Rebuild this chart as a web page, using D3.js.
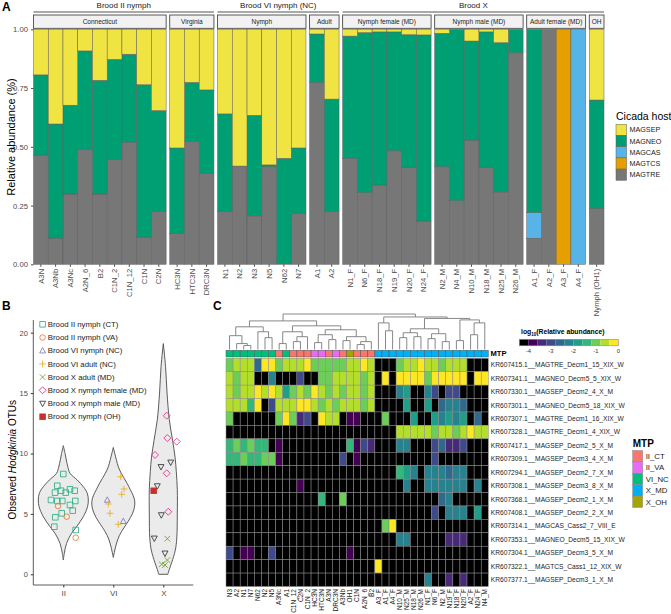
<!DOCTYPE html>
<html lang="en">
<head>
<meta charset="utf-8">
<title>Hodgkinia composition figure</title>
<script src="https://cdn.jsdelivr.net/npm/d3@7"></script>
<style>
  body { margin: 0; background: #fff; }
  svg { display: block; font-family: "Liberation Sans", Arial, sans-serif; }
</style>
</head>
<body>
<div id="chart"></div>
<script>

// ---------------- panel A data ----------------
const sampleNames = ["A3N","A3Nb","A3Nc","A2N_6","B2","C1N_2","C1N_12","C1N","C2N",
  "HC3N","HTC3N","DRC3N","N1","N2","N3","N5","N62","N7","A1","A2",
  "N1_F","N6_F","N18_F","N19_F","N20_F","N24_F","N2_M","N4_M","N10_M","N18_M","N25_M","N26_M",
  "A1_F","A2_F","A3_F","A4_F","Nymph (OH1)"];
const facetNames = ["Connecticut","Virginia","Nymph","Adult","Nymph female (MD)","Nymph male (MD)","Adult female (MD)","OH"];
const facetSizes = [9, 3, 6, 2, 6, 6, 4, 1];
const broodNames = ["Brood II nymph", "Brood VI nymph (NC)", "Brood X"];
const broodSpan = [2, 2, 4];   // number of inner facets under each brood

const hostKeys = ["MAGSEP","MAGNEO","MAGCAS","MAGTCS","MAGTRE"];
const hostColors = ["#F0E442","#009E73","#56B4E9","#E69F00","#777777"];

const magsep = [.194,.403,.323,.092,.217,.128,.106,.236,.346, .505,.226,.258, .360,.582,.366,.577,.549,.505, .020,.297,
  .029,.014,.011,.011,.023,.024, .017,0,.050,.011,.057,0, 0,0,0,0, .301];
const magneo = [.341,.486,.378,.419,.484,.425,.375,.648,.430, .363,.251,.355, .416,0,.428,.008,.447,.278, .206,.479,
  .520,.681,.652,.506,.564,.792, .568,.729,.422,.576,.635,.100, .780,0,0,0, .461];
const magcas = [0,0,0,0,0,0,0,0,0, 0,0,0, 0,0,0,0,0,0, 0,0, 0,0,0,0,0,0, 0,0,0,0,0,0, .109,0,0,1, 0];
const magtcs = [0,0,0,0,0,0,0,0,0, 0,0,0, 0,0,0,0,0,0, 0,0, 0,0,0,0,0,0, 0,0,0,0,0,0, 0,0,1,0, 0];
const magtre = [.465,.111,.299,.489,.299,.447,.519,.116,.224, .132,.523,.387, .224,.418,.206,.415,.004,.217, .774,.224,
  .451,.305,.337,.483,.413,.184, .415,.271,.528,.413,.308,.900, .111,1,0,0, .238];

// ---------------- panel B data ----------------
const otuGroups = ["II","VI","X"];
const otuTicks = [0, 5, 10, 15, 20];
// violin outlines: [observed OTUs, relative density]
const violinII = [[10.65,0],[10.0,0.07],[9.47,0.12],[8.9,0.18],[8.36,0.27],[7.8,0.56],[7.25,0.8],[6.7,0.96],[6.15,1],
  [5.6,0.97],[4.77,0.8],[3.94,0.53],[3.39,0.33],[2.56,0.13],[1.74,0.04],[1.18,0]];
const violinVI = [[10.5,0],[9.5,0.12],[8.9,0.2],[8.36,0.32],[7.5,0.56],[7,0.68],[6.5,0.8],[6,0.86],[5.5,0.84],
  [5,0.76],[4.4,0.6],[3.9,0.44],[3.2,0.24],[2.5,0.12],[1.8,0.04],[1.4,0]];
const violinX = [[19.1,0],[17.2,0.09],[15,0.15],[12.8,0.24],[11.1,0.37],[9.7,0.47],[8.5,0.52],[7,0.56],[5,0.56],
  [3,0.54],[2,0.48],[1,0.34],[0.4,0.24],[0,0.18]];

const seriesNames = ["Brood II nymph (CT)","Brood II nymph (VA)","Brood VI nymph (NC)","Brood VI adult (NC)",
  "Brood X adult (MD)","Brood X nymph female (MD)","Brood X nymph male (MD)","Brood X nymph (OH)"];
const seriesShapes = ["square","circle","triangle","plus","cross","diamond","down","squarex"];
const seriesColors = ["#27B084","#E5793A","#8078C0","#E8AE1C","#66A61E","#E7298A","#333333","#C8302E"];
const seriesGroup = ["II","II","VI","VI","X","X","X","X"];
// points: [jitter (category units), observed OTUs]
const ptsCT = [[0,8.3],[-0.12,7.33],[-0.046,6.92],[-0.166,6.76],[0.048,6.76],[0.134,7.04],[0.228,6.92],[-0.246,6.15],
  [-0.12,6.07],[-0.02,6.07],[0.24,6.07],[0.134,5.74],[0.188,5.27],[-0.032,5.05],[-0.16,4.72],[-0.18,3.94],[0.248,3.67]];
const ptsVA = [[-0.106,5.65],[0.068,4.77],[0.248,3.03]];
const ptsVInymph = [[-0.12,6.15],[0.2,4.39]];
const ptsVIadult = [[0.148,8.08],[0.214,7.06],[0.168,6.62],[-0.1,5.82],[-0.066,5.05],[0.1,4.14]];
const ptsXadult = [[0.08,2.95],[0.08,1.18],[-0.032,0.83],[0.034,0.77]];
const ptsXfemale = [[0.068,13.13],[0.08,11.28],[0.268,10.98],[-0.166,9.88],[0.068,8.36],[0.1,5.18]];
const ptsXmale = [[-0.046,8.9],[0.148,9.27],[-0.12,7.31],[-0.04,4.91],[-0.18,2.98],[0.034,1.74]];
const ptsOH = [[-0.192,6.92]];
const seriesPoints = [ptsCT, ptsVA, ptsVInymph, ptsVIadult, ptsXadult, ptsXfemale, ptsXmale, ptsOH];

// ---------------- panel C data ----------------
const colNames = ["N3","A2","N1","N7","N62","N2","N5","A3Nc","A1","C1N_12","C2N","C1N_2","HC3N","HTC3N","A3N","DRC3N",
  "A3Nb","OH1","C1N","A2N_6","B2","A3_F","A1_F","A4_F","N10_M","N25_M","N18_M","N26_M","N1_F","N6_F","N2_M","N19_F",
  "N18_F","N20_F","A2_F","N24_F","N4_M"];
const colMTP = ["VI_NC","VI_NC","VI_NC","VI_NC","VI_NC","VI_NC","VI_NC","II_CT","VI_NC","II_CT","II_CT","II_CT",
  "II_VA","II_VA","II_CT","II_VA","II_CT","X_OH","II_CT","II_CT","II_CT",
  "X_MD","X_MD","X_MD","X_MD","X_MD","X_MD","X_MD","X_MD","X_MD","X_MD","X_MD","X_MD","X_MD","X_MD","X_MD","X_MD"];
const mtpNames = ["II_CT","II_VA","VI_NC","X_MD","X_OH"];
const mtpColors = ["#F8766D","#E76BF3","#00BF7D","#00B0F6","#A3A500"];
const rowNames = ["KR607415.1__MAGTRE_Decm1_15_XIX_W","KR607341.1__MAGNEO_Decm5_5_XIX_W","KR607330.1__MAGSEP_Decm2_4_X_M",
  "KR607301.1__MAGNEO_Decm5_18_XIX_W","KR607307.1__MAGTRE_Decm1_16_XIX_W","KR607328.1__MAGTRE_Decm1_4_XIX_W",
  "KR607417.1__MAGSEP_Decm2_5_X_M","KR607309.1__MAGSEP_Decm3_4_X_M","KR607294.1__MAGSEP_Decm2_7_X_M",
  "KR607308.1__MAGSEP_Decm3_8_X_M","KR607368.1__MAGSEP_Decm2_1_X_M","KR607408.1__MAGSEP_Decm2_2_X_M",
  "KR607314.1__MAGCAS_Cass2_7_VIII_E","KR607353.1__MAGNEO_Decm5_15_XIX_W","KR607304.1__MAGSEP_Decm3_5_X_M",
  "KR607322.1__MAGTCS_Cass1_12_XIX_W","KR607377.1__MAGSEP_Decm3_1_X_M"];
const _ = null;  // not detected
// log10(relative abundance), one row per OTU, columns in colNames order
const heatValues = [
  [-1,-.6,-.6,-.6,-2.6,-.2,-.2,-1,-.6,-.6,-.6,-.2,-1,-1,-1,-1,-1,-.6,-.6,-.2,-.6,_,_,_,-1,-.6,-.6,-.2,-.6,-.6,-1,-.6,-.6,-.6,_,_,_],
  [-.6,-1,-.6,-.6,_,_,-2.2,_,_,_,-3,_,_,-1,-1,-.6,-.6,-.6,-.6,-1,-.6,_,-.2,_,-.2,-.2,-.2,-.2,-1,-.2,-.2,-.2,-.2,-.2,_,-.2,-.2],
  [-.6,-1,-.6,-.6,-.2,-.6,-.2,-.6,-1.8,-1,-.6,-1,-.2,-.6,-1,-.6,-1,-.6,-.6,-1,-.6,_,_,_,-2.2,-1.8,_,_,-2.2,-3,_,-3,-3,_,_,_,_],
  [-.6,-.6,-.6,-1.4,-.2,_,-3,-.6,-.6,-.6,-.2,-.2,-.6,-1,-.6,-1,-.6,-.6,-.6,-1,-.6,_,_,_,_,-1.8,_,_,-1.8,_,-2.6,-2.2,-2.2,-2.6,_,_,_],
  [-1,_,_,_,_,_,_,-1,-.2,-1,-3.4,-3,_,-.2,-.6,-.6,_,-3.8,-3.8,_,_,_,-1,_,_,_,-1.8,_,_,-1.8,-2.2,-1.8,-2.2,-1.8,_,-2.6,_],
  [_,_,_,_,_,_,_,_,_,_,_,_,_,_,_,_,_,_,_,_,_,_,_,_,-.6,-.6,-.6,-.6,-.6,-1,-.6,-.6,-1,-.6,-.2,-.6,-.6],
  [-1.4,-1,-1.4,-1,-1.4,-1.4,_,-3.8,_,_,_,_,_,_,_,_,_,-1.4,-3.8,-3,-3.4,_,_,_,-2.2,-2.2,_,_,_,-3,-2.6,-3.4,-3.4,-3,_,_,_],
  [-1.4,-1.4,-1,-1.4,-1.4,-1,-1,-3.8,_,_,_,_,_,_,_,_,-3,_,-3.8,_,_,_,_,_,_,_,_,_,_,-3,_,_,_,_,_,_,_],
  [_,_,_,_,_,_,_,_,_,_,_,_,_,_,_,_,_,_,_,_,_,_,_,_,-1.4,-1.8,-2.2,_,-2.2,-2.2,-2.2,-2.6,-2.2,-2.2,_,_,_],
  [_,_,_,_,_,_,_,_,_,_,-3.8,_,_,_,_,_,_,_,_,_,_,_,_,_,_,-2.2,_,_,-2.2,-2.2,-2.2,-2.2,-2.2,-2.2,_,-2.2,_],
  [_,_,_,_,_,_,_,_,_,_,_,_,_,-1.4,_,_,-1,_,_,_,_,_,_,_,_,_,_,_,_,_,-2.6,-2.2,_,_,_,_,_],
  [_,_,_,_,_,_,_,_,_,_,_,_,_,_,_,_,_,_,_,_,_,_,_,_,_,_,_,_,_,-3,_,-2.2,-2.2,-2.2,_,-1.8,_],
  [_,_,_,_,_,_,_,_,_,_,_,_,_,_,_,_,_,_,_,_,_,_,-1,-.2,_,_,_,_,_,_,_,_,_,_,_,_,_],
  [_,_,_,_,_,_,_,_,_,_,_,_,_,_,_,_,_,_,_,_,_,_,_,_,-2.2,-2.2,_,_,_,_,_,-3.4,-3.4,-3.4,_,_,_],
  [-3,_,-3.8,-3.8,_,_,-3,_,_,_,_,_,_,_,_,_,_,-3.8,_,_,_,_,_,_,_,_,_,_,_,_,_,_,_,_,_,_,_],
  [_,_,_,_,_,_,_,_,_,_,_,_,_,_,_,_,_,_,_,_,_,-.2,_,_,_,_,_,_,_,_,_,_,_,_,_,_,_],
  [_,_,_,_,_,_,_,_,_,_,_,_,_,_,_,_,_,_,_,_,_,_,_,_,_,_,_,_,-2.2,_,_,-3.4,_,-3.4,_,_,_]
];
const heatBreaks = [-4,-3.6,-3.2,-2.8,-2.4,-2,-1.6,-1.2,-0.8,-0.4];
const heatColors = ["#000000","#440154","#482878","#3E4A89","#31688E","#26828E","#1F9E89","#35B779","#6DCD59","#B4DE2C","#FDE725"];
const heatLegendTicks = [-4,-3,-2,-1,0];
// column clustering: [merge height, left, right]; leaves are column indices
const colTree = [36,
  [29,
    [23, [14, 0, [6, 1, [4, 2, 3]]], [18, 4, [12, 5, 6]]],
    [24, [18, [6, 7, 8], [13, [8, 9, 10], 11]],
         [20, [15, [7, 12, 13], [10, 14, 15]], [13, [9, 16, 17], [8, [5, 18, 19], 20]]]]],
  [33,
    [27, 21, [19, 22, 23]],
    [31.5, [21, [17, [12, 24, 25], [13, 26, 27]], [16, [11, 28, 29], [8, 30, 31]]],
           [30, [9, 32, 33], [27, [15, 34, 35], 36]]]]];

// ------------------------------------------------
const svg = d3.select("#chart").append("svg")
    .attr("width", 671)
    .attr("height", 614);

const greyText = "#4d4d4d";

function panelLetter(t, x, y) {
    svg.append("text").attr("x", x).attr("y", y).text(t)
        .style("font-size", "12px").style("font-weight", "bold");
}

// ================= PANEL A =================
panelLetter("A", 2, 11);

const aLeft = 33.5, aRight = 604, aGap = 3.6, aTop = 29.3, aBottom = 264.3;
const barW = (aRight - aLeft - aGap * (facetSizes.length - 1)) / sampleNames.length;

const yA = d3.scaleLinear().domain([0, 1]).range([aBottom, aTop]);

const rows = sampleNames.map((s, i) => ({
    sample: s, MAGSEP: magsep[i], MAGNEO: magneo[i], MAGCAS: magcas[i], MAGTCS: magtcs[i], MAGTRE: magtre[i]
}));
const stackKeys = ["MAGTRE","MAGTCS","MAGCAS","MAGNEO","MAGSEP"];
const layers = d3.stack().keys(stackKeys)(rows);
const hostColor = d3.scaleOrdinal().domain(hostKeys).range(hostColors);

let cursor = aLeft;
const facets = facetNames.map((name, i) => {
    const start = d3.sum(facetSizes.slice(0, i));
    const ids = sampleNames.slice(start, start + facetSizes[i]);
    const x = d3.scaleBand().domain(ids).range([cursor, cursor + ids.length * barW]).padding(0);
    cursor += ids.length * barW + aGap;
    return { name, ids, x };
});

const gA = svg.append("g");

facets.forEach(f => {
    const g = gA.append("g");
    layers.forEach(layer => {
        g.selectAll(null)
            .data(layer.filter(d => f.ids.includes(d.data.sample) && d[1] - d[0] > 0))
            .enter().append("rect")
            .attr("x", d => f.x(d.data.sample))
            .attr("width", f.x.bandwidth())
            .attr("y", d => yA(d[1]))
            .attr("height", d => yA(d[0]) - yA(d[1]))
            .attr("fill", hostColor(layer.key))
            .attr("stroke", "#5e5e5e")
            .attr("stroke-width", 0.5);
    });

    // x labels
    const ax = g.append("g")
        .attr("transform", "translate(0," + aBottom + ")")
        .call(d3.axisBottom(f.x).tickSize(2.5));
    ax.select(".domain").remove();
    ax.selectAll("line").attr("stroke", "#4d4d4d");
    ax.selectAll("text")
        .attr("transform", "rotate(-90)")
        .attr("x", -4.5).attr("y", 0).attr("dy", "0.35em")
        .attr("text-anchor", "end")
        .style("font-size", "7.7px").style("fill", greyText)
        .style("font-family", "Liberation Sans, Arial, sans-serif");

    // inner strip
    const [x0, x1] = f.x.range();
    g.append("rect")
        .attr("x", x0).attr("y", 15).attr("width", x1 - x0).attr("height", 13.3)
        .attr("fill", "#f2f2f2").attr("stroke", "#333").attr("stroke-width", 0.8);
    g.append("text")
        .attr("x", (x0 + x1) / 2).attr("y", 21.8).attr("dy", "0.35em")
        .attr("text-anchor", "middle")
        .style("font-size", "6.5px").style("fill", "#1a1a1a")
        .text(f.name);
});

// outer (brood) strips
let fi = 0;
broodNames.forEach((b, i) => {
    const x0 = facets[fi].x.range()[0];
    const x1 = facets[fi + broodSpan[i] - 1].x.range()[1];
    fi += broodSpan[i];
    gA.append("line")
        .attr("x1", x0).attr("x2", x1).attr("y1", 12).attr("y2", 12)
        .attr("stroke", "#8c8c8c").attr("stroke-width", 1.6);
    gA.append("text")
        .attr("x", (x0 + x1) / 2).attr("y", 5.3).attr("dy", "0.35em")
        .attr("text-anchor", "middle")
        .style("font-size", "8px").style("fill", "#1a1a1a")
        .text(b);
});

// y axis
const yAxisA = gA.append("g")
    .attr("transform", "translate(" + aLeft + ",0)")
    .call(d3.axisLeft(yA).tickValues([0, 0.25, 0.5, 0.75, 1]).tickFormat(d3.format(".2f")).tickSize(2.5));
yAxisA.select(".domain").remove();
yAxisA.selectAll("line").attr("stroke", "#4d4d4d");
yAxisA.selectAll("text").style("font-size", "7.7px").style("fill", greyText)
    .style("font-family", "Liberation Sans, Arial, sans-serif");

gA.append("text")
    .attr("transform", "translate(11," + 137 + ") rotate(-90)")
    .attr("text-anchor", "middle").attr("dy", "0.35em")
    .style("font-size", "11px")
    .text("Relative abundance (%)");

// host legend
const legA = gA.append("g").attr("transform", "translate(616,0)");
legA.append("text").attr("x", 0).attr("y", 120).text("Cicada host").style("font-size", "10.5px");
hostKeys.forEach((k, i) => {
    legA.append("rect")
        .attr("x", 0).attr("y", 124.3 + i * 11.2).attr("width", 10.6).attr("height", 11.2)
        .attr("fill", hostColors[i]).attr("stroke", "#5e5e5e").attr("stroke-width", 0.5);
    legA.append("text")
        .attr("x", 13.5).attr("y", 124.3 + i * 11.2 + 5.6).attr("dy", "0.35em")
        .style("font-size", "7.2px").style("fill", "#1a1a1a")
        .text(k);
});

// ================= PANEL B =================
panelLetter("B", 2, 310);

const gB = svg.append("g");
const xB = d3.scalePoint().domain(otuGroups).range([63.3, 163.3]);
const catUnit = 50;
const yB = d3.scaleLinear().domain([0, 20]).range([574.3, 332.7]);
const wB = d3.scaleLinear().domain([0, 1]).range([0, 25]);
const symSize = 5.6;

const violins = [violinII, violinVI, violinX];
violins.forEach((v, i) => {
    const cx = xB(otuGroups[i]);
    const area = d3.area()
        .y(d => yB(d[0]))
        .x0(d => cx - wB(d[1]))
        .x1(d => cx + wB(d[1]))
        .curve(d3.curveCatmullRom.alpha(0.5));
    gB.append("path")
        .attr("d", area(v) + "Z")
        .attr("fill", "#ebebeb")
        .attr("stroke", "#4a4a4a")
        .attr("stroke-width", 0.9);
});

function shapePath(type, s) {
    const h = s / 2;
    switch (type) {
        case "square": return `M${-h},${-h}H${h}V${h}H${-h}Z`;
        case "circle": return `M${h},0A${h},${h} 0 1,1 ${-h},0A${h},${h} 0 1,1 ${h},0Z`;
        case "triangle": return `M0,${-h * 1.15}L${h * 1.05},${h * 0.8}L${-h * 1.05},${h * 0.8}Z`;
        case "down": return `M0,${h * 1.15}L${h * 1.05},${-h * 0.8}L${-h * 1.05},${-h * 0.8}Z`;
        case "plus": return `M${-h * 1.2},0H${h * 1.2}M0,${-h * 1.2}V${h * 1.2}`;
        case "cross": return `M${-h},${-h}L${h},${h}M${-h},${h}L${h},${-h}`;
        case "diamond": return `M0,${-h * 1.25}L${h * 1.25},0L0,${h * 1.25}L${-h * 1.25},0Z`;
        case "squarex": return `M${-h},${-h}H${h}V${h}H${-h}ZM${-h},${-h}L${h},${h}M${-h},${h}L${h},${-h}`;
    }
}

seriesPoints.forEach((pts, si) => {
    const cx = xB(seriesGroup[si]);
    gB.selectAll(null)
        .data(pts)
        .enter().append("path")
        .attr("transform", d => "translate(" + (cx + d[0] * catUnit) + "," + yB(d[1]) + ")")
        .attr("d", shapePath(seriesShapes[si], symSize))
        .attr("fill", seriesShapes[si] === "squarex" ? seriesColors[si] : "none")
        .attr("stroke", seriesColors[si])
        .attr("stroke-width", 0.85);
});

// axes
gB.append("line").attr("x1", 33.3).attr("x2", 33.3).attr("y1", 320).attr("y2", 585)
    .attr("stroke", "#333").attr("stroke-width", 0.8);
gB.append("line").attr("x1", 33.3).attr("x2", 193.3).attr("y1", 585).attr("y2", 585)
    .attr("stroke", "#333").attr("stroke-width", 0.8);

const yAxisB = gB.append("g")
    .attr("transform", "translate(33.3,0)")
    .call(d3.axisLeft(yB).tickValues(otuTicks).tickSize(2.5));
yAxisB.select(".domain").remove();
yAxisB.selectAll("line").attr("stroke", "#333");
yAxisB.selectAll("text").style("font-size", "7.5px").style("fill", greyText)
    .style("font-family", "Liberation Sans, Arial, sans-serif");

const xAxisB = gB.append("g")
    .attr("transform", "translate(0,585)")
    .call(d3.axisBottom(xB).tickSize(2.5));
xAxisB.select(".domain").remove();
xAxisB.selectAll("line").attr("stroke", "#333");
xAxisB.selectAll("text").style("font-size", "8px").style("fill", greyText)
    .style("font-family", "Liberation Sans, Arial, sans-serif");

const yTitleB = gB.append("text")
    .attr("transform", "translate(12,459.7) rotate(-90)")
    .attr("text-anchor", "middle").attr("dy", "0.35em")
    .style("font-size", "10px");
yTitleB.append("tspan").text("Observed ");
yTitleB.append("tspan").style("font-style", "italic").text("Hodgkinia");
yTitleB.append("tspan").text(" OTUs");

// point legend
seriesNames.forEach((n, i) => {
    const yy = 324.3 + i * 13.2;
    gB.append("path")
        .attr("transform", "translate(42.6," + yy + ")")
        .attr("d", shapePath(seriesShapes[i], symSize))
        .attr("fill", seriesShapes[i] === "squarex" ? seriesColors[i] : "none")
        .attr("stroke", seriesColors[i])
        .attr("stroke-width", 0.85);
    gB.append("text")
        .attr("x", 47.8).attr("y", yy).attr("dy", "0.35em")
        .style("font-size", "7.8px").style("fill", "#1a1a1a")
        .text(n);
});

// ================= PANEL C =================
panelLetter("C", 213, 310);

const gC = svg.append("g");
const xH = d3.scaleBand().domain(colNames).range([226, 488.3]).padding(0);
const yH = d3.scaleBand().domain(rowNames).range([358.3, 586.5]).padding(0);
const heatColor = d3.scaleThreshold().domain(heatBreaks).range(heatColors);
const mtpColor = d3.scaleOrdinal().domain(mtpNames).range(mtpColors);
const cellBorder = "#8a8a8a";

// dendrogram
const yD = d3.scaleLinear().domain([0, 36]).range([349.5, 314]);
const dendro = gC.append("g");
function drawTree(node) {
    if (typeof node === "number") return { x: xH(colNames[node]) + xH.bandwidth() / 2, h: 0 };
    const [h, a, b] = node;
    const L = drawTree(a), R = drawTree(b);
    dendro.append("path")
        .attr("d", `M${L.x},${yD(L.h)}V${yD(h)}H${R.x}V${yD(R.h)}`)
        .attr("fill", "none").attr("stroke", "#7a7a7a").attr("stroke-width", 0.9);
    return { x: (L.x + R.x) / 2, h };
}
drawTree(colTree);

// MTP annotation strip
gC.selectAll(null)
    .data(colNames)
    .enter().append("rect")
    .attr("x", d => xH(d)).attr("y", 350.3)
    .attr("width", xH.bandwidth()).attr("height", 6.7)
    .attr("fill", (d, i) => mtpColor(colMTP[i]))
    .attr("stroke", "#555").attr("stroke-width", 0.5);
gC.append("text").attr("x", 490.5).attr("y", 353.7).attr("dy", "0.35em")
    .style("font-size", "7.6px").style("font-weight", "bold").text("MTP");

// cells
heatValues.forEach((row, r) => {
    gC.selectAll(null)
        .data(row)
        .enter().append("rect")
        .attr("x", (d, c) => xH(colNames[c]))
        .attr("y", yH(rowNames[r]))
        .attr("width", xH.bandwidth())
        .attr("height", yH.bandwidth())
        .attr("fill", d => d === null ? heatColors[0] : heatColor(d))
        .attr("stroke", cellBorder).attr("stroke-width", 0.5);
});

// row labels
gC.selectAll(null)
    .data(rowNames)
    .enter().append("text")
    .attr("x", 490.8)
    .attr("y", d => yH(d) + yH.bandwidth() / 2)
    .attr("dy", "0.35em")
    .style("font-size", "6.65px").style("fill", "#222")
    .text(d => d);

// column labels
gC.selectAll(null)
    .data(colNames)
    .enter().append("text")
    .attr("transform", d => "translate(" + (xH(d) + xH.bandwidth() / 2) + ",589) rotate(-90)")
    .attr("text-anchor", "end").attr("dy", "0.35em")
    .style("font-size", "6.5px").style("fill", "#222")
    .text(d => d);

// colour legend
const legC = gC.append("g");
const legTitle = legC.append("text").attr("x", 521).attr("y", 334)
    .style("font-size", "6.8px").style("font-weight", "bold");
legTitle.append("tspan").text("log");
legTitle.append("tspan").attr("dy", 1.6).style("font-size", "4.5px").text("10");
legTitle.append("tspan").attr("dy", -1.6).text("(Relative abundance)");

const legX = d3.scaleLinear().domain([-4, 0]).range([528.3, 618.3]);
const legCell = (legX(0) - legX(-4)) / 10;
legC.selectAll(null)
    .data(heatColors)
    .enter().append("rect")
    .attr("x", (d, i) => legX(-4) + (i - 1) * legCell)
    .attr("y", 339.3).attr("width", legCell).attr("height", 6.5)
    .attr("fill", d => d);
legC.append("rect")
    .attr("x", legX(-4) - legCell).attr("y", 339.3).attr("width", legCell * 11).attr("height", 6.5)
    .attr("fill", "none").attr("stroke", "#8a8a8a").attr("stroke-width", 0.6);
legC.selectAll(null)
    .data(heatLegendTicks)
    .enter().append("text")
    .attr("x", d => legX(d)).attr("y", 351).attr("dy", "0.35em")
    .attr("text-anchor", "middle")
    .style("font-size", "5.8px").style("fill", "#333")
    .text(d => d);

// MTP legend
const legM = gC.append("g").attr("transform", "translate(632.7,0)");
legM.append("text").attr("x", 0).attr("y", 446.5).text("MTP")
    .style("font-size", "10px").style("font-weight", "bold");
mtpNames.forEach((m, i) => {
    legM.append("rect")
        .attr("x", 0).attr("y", 450.5 + i * 11.4).attr("width", 10).attr("height", 11.4)
        .attr("fill", mtpColors[i]).attr("stroke", "#8a8a8a").attr("stroke-width", 0.5);
    legM.append("text")
        .attr("x", 13).attr("y", 450.5 + i * 11.4 + 5.7).attr("dy", "0.35em")
        .style("font-size", "7.8px").style("fill", "#222")
        .text(m);
});

</script>
</body>
</html>
